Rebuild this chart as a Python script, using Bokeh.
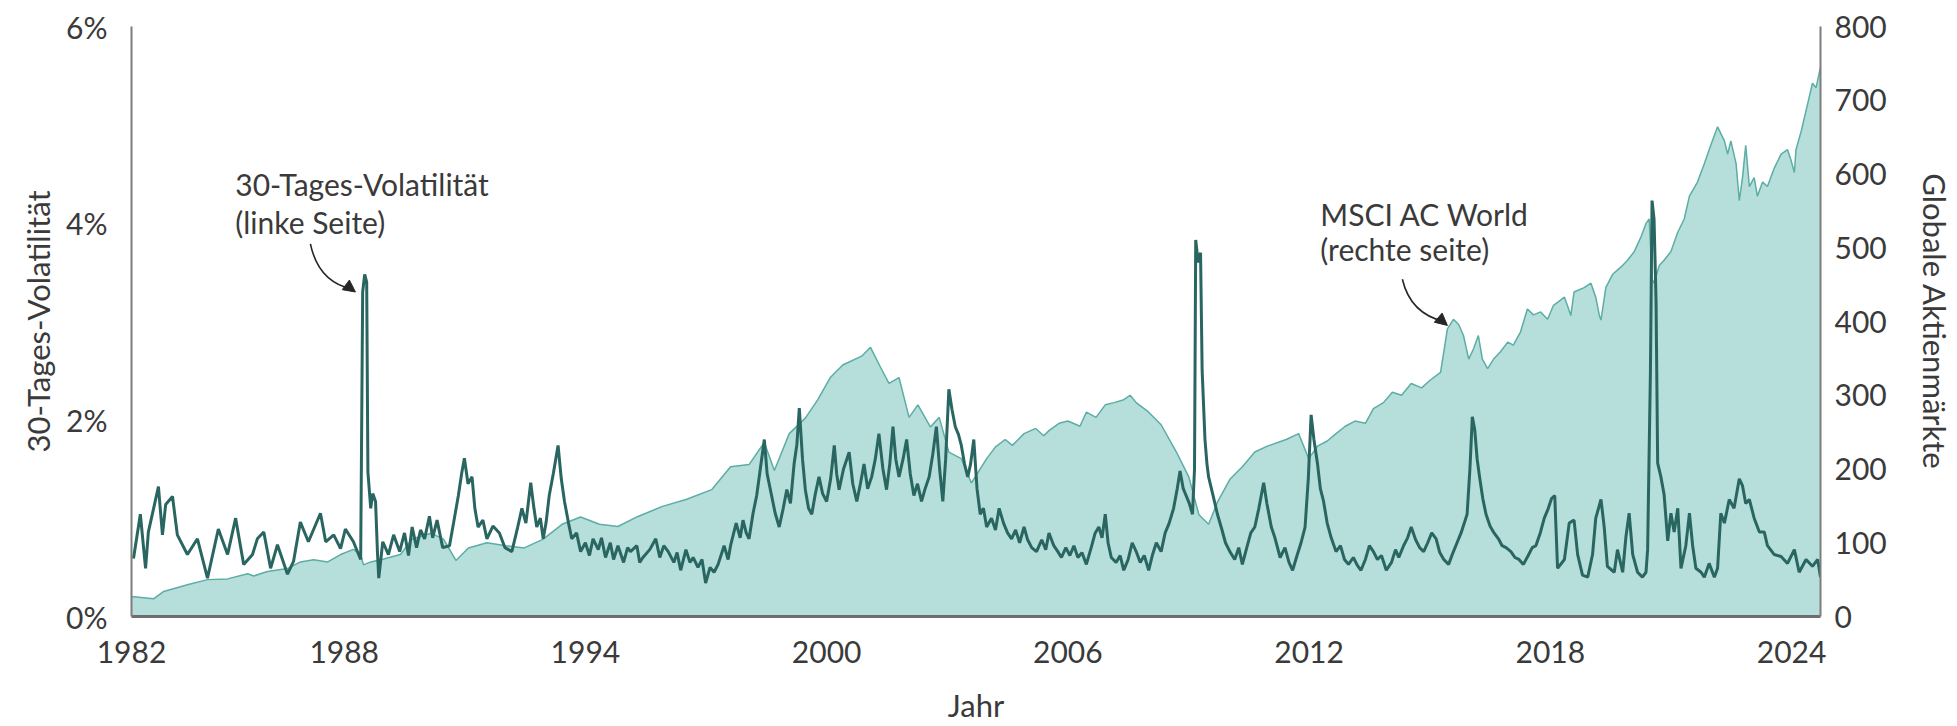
from bokeh.plotting import figure
from bokeh.models import (Range1d, LinearAxis, FixedTicker, CustomJSTickFormatter,
                          Label, Arrow, NormalHead, ColumnDataSource, PrintfTickFormatter)
from bokeh.embed import file_html
from bokeh.resources import INLINE

# ---------------- data ----------------
vol_year = [1982.76, 1982.93, 1983.06, 1983.13, 1983.38, 1983.48, 1983.56, 1983.73, 1983.85, 1984.10,
            1984.35, 1984.60, 1984.87, 1985.10, 1985.30, 1985.50, 1985.72, 1985.84, 1986.00, 1986.17,
            1986.34, 1986.59, 1986.74, 1986.91, 1987.11, 1987.41, 1987.54, 1987.74, 1987.91, 1988.03,
            1988.23, 1988.41, 1988.46, 1988.51, 1988.56, 1988.59, 1988.66, 1988.71, 1988.78, 1988.83,
            1988.86, 1988.96, 1989.10, 1989.23,
            1989.38, 1989.50, 1989.60, 1989.69, 1989.80, 1989.90, 1990.00, 1990.12, 1990.20, 1990.31,
            1990.45, 1990.62, 1990.72, 1990.84, 1990.92, 1990.99, 1991.08, 1991.18, 1991.25, 1991.33,
            1991.45, 1991.55, 1991.70, 1991.86, 1992.00, 1992.17, 1992.30, 1992.42, 1992.52, 1992.64,
            1992.72, 1992.79, 1992.88, 1992.95, 1993.02, 1993.10, 1993.20, 1993.32, 1993.40, 1993.48,
            1993.58, 1993.66, 1993.78, 1993.88, 1994.00, 1994.10, 1994.19, 1994.32, 1994.40, 1994.50,
            1994.62, 1994.70, 1994.81, 1994.95, 1995.05, 1995.12, 1995.28, 1995.35, 1995.43, 1995.60,
            1995.75, 1995.85, 1995.95, 1996.06, 1996.20, 1996.28, 1996.37, 1996.50, 1996.60, 1996.68,
            1996.80, 1996.90, 1996.99, 1997.10, 1997.20, 1997.30, 1997.45, 1997.55, 1997.61, 1997.75,
            1997.85, 1997.92, 1998.00, 1998.07, 1998.17, 1998.26, 1998.35, 1998.45, 1998.52, 1998.63,
            1998.72, 1998.82, 1998.92, 1999.01, 1999.10, 1999.19, 1999.26, 1999.32, 1999.40, 1999.47,
            1999.55, 1999.63, 1999.72, 1999.81, 1999.90, 2000.00, 2000.10, 2000.19, 2000.25, 2000.31,
            2000.42, 2000.56, 2000.65, 2000.75, 2000.84, 2000.93, 2001.02, 2001.12, 2001.21, 2001.30,
            2001.40, 2001.49, 2001.57, 2001.65, 2001.72, 2001.80, 2001.90, 2001.99, 2002.08, 2002.17,
            2002.26, 2002.36, 2002.45, 2002.55, 2002.64, 2002.73, 2002.81, 2002.89, 2002.96, 2003.04,
            2003.12, 2003.20, 2003.28, 2003.35, 2003.43, 2003.51, 2003.58, 2003.66, 2003.74, 2003.82,
            2003.90, 2003.98, 2004.10, 2004.20, 2004.29, 2004.40, 2004.50, 2004.60, 2004.70, 2004.80,
            2004.91, 2005.00, 2005.10, 2005.22, 2005.35, 2005.45, 2005.53, 2005.65, 2005.75, 2005.84,
            2005.95, 2006.05, 2006.15, 2006.25, 2006.35, 2006.46, 2006.58, 2006.68, 2006.77, 2006.85,
            2006.93, 2007.00, 2007.08, 2007.20, 2007.30, 2007.39, 2007.50, 2007.60, 2007.70, 2007.80,
            2007.90, 2008.01, 2008.10, 2008.20, 2008.32, 2008.42, 2008.52, 2008.63, 2008.72, 2008.79,
            2008.87, 2008.94, 2009.02, 2009.10, 2009.15, 2009.18, 2009.24, 2009.30, 2009.34, 2009.41,
            2009.46, 2009.50, 2009.60, 2009.72, 2009.82, 2009.92, 2010.03, 2010.15, 2010.25, 2010.34,
            2010.45, 2010.55, 2010.65, 2010.75, 2010.87, 2010.95, 2011.06, 2011.15, 2011.28, 2011.40,
            2011.50, 2011.59, 2011.70, 2011.80, 2011.90, 2011.98, 2012.05, 2012.12, 2012.21, 2012.28,
            2012.36, 2012.45, 2012.55, 2012.67, 2012.78, 2012.88, 2012.98, 2013.10, 2013.20, 2013.29,
            2013.40, 2013.50, 2013.60, 2013.70, 2013.80, 2013.92, 2014.05, 2014.15, 2014.23, 2014.35,
            2014.45, 2014.54, 2014.65, 2014.75, 2014.85, 2014.95, 2015.05, 2015.16, 2015.25, 2015.35,
            2015.47, 2015.58, 2015.68, 2015.78, 2015.86, 2015.93, 2016.00, 2016.06, 2016.12, 2016.18,
            2016.24, 2016.32, 2016.40, 2016.50, 2016.60, 2016.71, 2016.80, 2016.90, 2017.02, 2017.12,
            2017.22, 2017.33, 2017.45, 2017.55, 2017.64, 2017.75, 2017.85, 2017.95, 2018.03, 2018.11,
            2018.18, 2018.35, 2018.47, 2018.59, 2018.68, 2018.80, 2018.93, 2019.05, 2019.13, 2019.26,
            2019.34, 2019.42, 2019.59, 2019.67, 2019.80, 2019.88, 2019.96, 2020.05, 2020.17, 2020.29,
            2020.38, 2020.42, 2020.49, 2020.53, 2020.58, 2020.63, 2020.67, 2020.75, 2020.83, 2020.92,
            2021.00, 2021.08, 2021.17, 2021.25, 2021.37, 2021.46, 2021.54, 2021.62, 2021.75, 2021.83,
            2021.95, 2022.08, 2022.16, 2022.24, 2022.33, 2022.45, 2022.57, 2022.70, 2022.78, 2022.86,
            2022.95, 2023.07, 2023.20, 2023.32, 2023.40, 2023.57, 2023.74, 2023.90, 2024.07, 2024.19,
            2024.36, 2024.52, 2024.65, 2024.72]
vol_pct = [0.59, 1.04, 0.49, 0.86, 1.32, 0.83, 1.14, 1.22, 0.83, 0.63,
           0.79, 0.39, 0.89, 0.63, 1.00, 0.53, 0.63, 0.79, 0.86, 0.49,
           0.73, 0.43, 0.56, 0.96, 0.76, 1.05, 0.76, 0.83, 0.69, 0.89,
           0.76, 0.58, 3.30, 3.48, 3.40, 1.47, 1.10, 1.25, 1.17, 0.63,
           0.39, 0.76, 0.63, 0.83,
           0.66, 0.85, 0.62, 0.91, 0.70, 0.88, 0.79, 1.02, 0.80, 0.98,
           0.70, 0.72, 0.95, 1.23, 1.45, 1.61, 1.35, 1.42, 1.10, 0.91,
           0.98, 0.79, 0.92, 0.85, 0.70, 0.66, 0.88, 1.10, 0.95, 1.36,
           1.10, 0.91, 1.00, 0.79, 0.95, 1.23, 1.45, 1.74, 1.40, 1.17,
           0.95, 0.79, 0.85, 0.66, 0.75, 0.62, 0.79, 0.68, 0.80, 0.60,
           0.75, 0.58, 0.72, 0.55, 0.70, 0.66, 0.72, 0.55, 0.60, 0.68,
           0.79, 0.60, 0.72, 0.66, 0.55, 0.65, 0.47, 0.68, 0.55, 0.60,
           0.50, 0.58, 0.34, 0.50, 0.45, 0.53, 0.72, 0.58, 0.72, 0.95,
           0.80, 0.98, 0.85, 0.79, 1.05, 1.23, 1.50, 1.80, 1.45, 1.23,
           1.05, 0.91, 1.10, 1.29, 1.15, 1.55, 1.75, 2.12, 1.60, 1.29,
           1.10, 1.04, 1.25, 1.42, 1.25, 1.17, 1.40, 1.74, 1.45, 1.29,
           1.50, 1.67, 1.35, 1.17, 1.35, 1.55, 1.30, 1.42, 1.60, 1.86,
           1.50, 1.29, 1.55, 1.93, 1.60, 1.42, 1.60, 1.80, 1.45, 1.23,
           1.35, 1.17, 1.30, 1.42, 1.65, 1.93, 1.50, 1.17, 1.60, 2.31,
           2.10, 1.93, 1.85, 1.74, 1.55, 1.42, 1.55, 1.80, 1.30, 1.04,
           1.10, 0.91, 1.00, 0.88, 1.10, 0.95, 0.85, 0.79, 0.88, 0.75,
           0.91, 0.78, 0.70, 0.66, 0.78, 0.68, 0.85, 0.72, 0.66, 0.60,
           0.70, 0.62, 0.72, 0.60, 0.65, 0.53, 0.70, 0.85, 0.91, 0.80,
           1.04, 0.75, 0.60, 0.55, 0.62, 0.47, 0.58, 0.75, 0.66, 0.55,
           0.62, 0.47, 0.62, 0.75, 0.66, 0.85, 0.95, 1.10, 1.30, 1.48,
           1.30, 1.23, 1.15, 1.04, 1.50, 3.83, 3.60, 3.70, 2.50, 1.80,
           1.55, 1.42, 1.25, 1.04, 0.90, 0.75, 0.66, 0.58, 0.70, 0.53,
           0.70, 0.85, 0.91, 1.10, 1.36, 1.15, 0.91, 0.80, 0.60, 0.70,
           0.55, 0.47, 0.62, 0.75, 0.91, 1.40, 2.05, 1.80, 1.55, 1.30,
           1.17, 0.95, 0.80, 0.66, 0.72, 0.58, 0.53, 0.60, 0.52, 0.47,
           0.58, 0.72, 0.66, 0.58, 0.62, 0.47, 0.55, 0.68, 0.60, 0.72,
           0.80, 0.91, 0.78, 0.70, 0.66, 0.75, 0.85, 0.79, 0.65, 0.58,
           0.53, 0.65, 0.75, 0.85, 0.95, 1.04, 1.50, 2.03, 1.90, 1.60,
           1.42, 1.20, 1.04, 0.92, 0.85, 0.79, 0.72, 0.70, 0.66, 0.60,
           0.58, 0.53, 0.62, 0.70, 0.72, 0.85, 1.00, 1.10, 1.20, 1.23,
           0.49, 0.58, 0.95, 0.98, 0.63, 0.42, 0.40, 0.63, 1.00, 1.19,
           0.91, 0.51, 0.45, 0.68, 0.45, 0.81, 1.05, 0.63, 0.45, 0.40,
           0.45, 0.68, 2.50, 4.23, 4.04, 3.20, 1.56, 1.42, 1.24, 0.77,
           1.05, 0.86, 1.10, 0.49, 0.72, 1.05, 0.72, 0.49, 0.45, 0.40,
           0.54, 0.40, 0.49, 1.05, 0.95, 1.19, 1.10, 1.40, 1.33, 1.15,
           1.19, 1.00, 0.86, 0.86, 0.72, 0.63, 0.61, 0.54, 0.68, 0.45,
           0.58, 0.51, 0.58, 0.40]

msci_year = [1982.71, 1983.26, 1983.51, 1984.10, 1984.60, 1985.10, 1985.60, 1985.75, 1986.09, 1986.59,
             1986.91, 1987.24, 1987.59, 1987.91, 1988.23, 1988.41, 1988.48, 1988.66, 1988.98, 1989.40,
             1989.69, 1990.16, 1990.47, 1990.78, 1991.09, 1991.55, 1992.02, 1992.48, 1992.95, 1993.42,
             1993.88, 1994.35, 1994.81, 1995.28, 1995.90, 1996.52, 1997.14, 1997.61, 1998.07, 1998.45,
             1998.70, 1999.07, 1999.47, 1999.78, 2000.09, 2000.40, 2000.87, 2001.09, 2001.34, 2001.55,
             2001.80, 2002.05, 2002.27, 2002.58, 2002.80, 2003.04, 2003.35, 2003.60, 2003.98, 2004.20,
             2004.44, 2004.62, 2004.91, 2005.20, 2005.40, 2005.53, 2005.78, 2006.00, 2006.30, 2006.46,
             2006.70, 2006.93, 2007.15, 2007.39, 2007.55, 2007.70, 2008.01, 2008.32, 2008.70,
             2009.01, 2009.26, 2009.50, 2009.72, 2010.03, 2010.34, 2010.65, 2010.96, 2011.43, 2011.74,
             2011.99, 2012.21, 2012.45, 2012.67, 2012.90, 2013.14, 2013.40, 2013.60, 2013.85, 2014.07,
             2014.30, 2014.54, 2014.80, 2015.00,
             2015.27, 2015.44, 2015.59, 2015.72, 2015.84, 2015.97, 2016.09, 2016.21, 2016.31, 2016.44,
             2016.59, 2016.76, 2016.94, 2017.08, 2017.26, 2017.43, 2017.58, 2017.76, 2017.93, 2018.08,
             2018.18, 2018.35, 2018.43, 2018.51, 2018.59, 2018.84, 2019.01, 2019.13, 2019.22, 2019.26,
             2019.38, 2019.55, 2019.76, 2019.92, 2020.09, 2020.25, 2020.38, 2020.46, 2020.53, 2020.58,
             2020.71, 2020.83, 2021.00, 2021.17, 2021.33, 2021.46, 2021.66, 2021.83, 2021.99, 2022.16,
             2022.33, 2022.41, 2022.49, 2022.62, 2022.70, 2022.78, 2022.86, 2022.95, 2023.07, 2023.15,
             2023.28, 2023.40, 2023.57, 2023.74, 2023.90, 2023.98, 2024.07, 2024.11, 2024.24, 2024.40,
             2024.52, 2024.61, 2024.72]
msci_val = [27, 24, 34, 43, 50, 51, 58, 55, 61, 65,
            74, 77, 74, 84, 91, 84, 70, 74, 78, 84,
            105, 113, 105, 76, 93, 100, 96, 93, 105, 125,
            135, 125, 122, 135, 149, 159, 172, 203, 206, 236,
            198, 248, 269, 294, 324, 341, 353, 365, 338, 316,
            324, 270, 287, 257, 270, 223, 214, 181, 214, 230,
            240, 232, 248, 255, 245, 252, 262, 265, 258, 277,
            270, 287, 290, 294, 300, 290, 277, 260, 223,
            189, 138, 125, 155, 186, 203, 223, 231, 240, 248,
            214, 231, 238, 248, 258, 265, 262, 282, 290, 304,
            300, 316, 310, 320,
            331, 390, 403, 396, 381, 349, 363, 381, 349, 336,
            349, 359, 372, 368, 386, 417, 409, 413, 403, 422,
            426, 433, 421, 408, 440, 446, 452, 433, 408, 402,
            446, 464, 474, 483, 495, 514, 533, 539, 458, 452,
            476, 483, 495, 521, 539, 570, 589, 614, 639, 664,
            645, 627, 645, 614, 564, 595, 639, 583, 595, 570,
            589, 583, 608, 627, 633, 620, 602, 633, 658, 695,
            723, 717, 745]

x_ticks = [1982.71, 1988, 1994, 2000, 2006, 2012, 2018, 2024]
left_ticks = [0, 2, 4, 6]
right_ticks = [0, 100, 200, 300, 400, 500, 600, 700, 800]

# ---------------- style ----------------
FONT = "Lato"
TXT = "#3a3a3a"
FS = "30px"
TITLE_FS = "31px"
AXIS_C = "#7d7d7d"
VOL_C = "#2a6661"
FILL_C = "#b6dedb"
MSCI_C = "#5cada5"

p = figure(width=1957, height=726, output_backend="svg", toolbar_location=None,
           x_range=Range1d(1982.71, 2024.72), y_range=Range1d(0, 6),
           min_border_left=131, min_border_right=137, min_border_top=26, min_border_bottom=110)
p.extra_y_ranges = {"right": Range1d(0, 800)}
p.outline_line_color = None
p.xgrid.visible = False
p.ygrid.visible = False

msrc = ColumnDataSource(dict(x=msci_year, y=msci_val))
vsrc = ColumnDataSource(dict(x=vol_year, y=vol_pct))
p.varea(x="x", y1=0, y2="y", source=msrc, y_range_name="right", fill_color=FILL_C)
p.line(x="x", y="y", source=msrc, y_range_name="right", line_color=MSCI_C, line_width=1.5)
p.line(x="x", y="y", source=vsrc, line_color=VOL_C, line_width=3)

raxis = LinearAxis(y_range_name="right", ticker=FixedTicker(ticks=right_ticks),
                   axis_label="Globale Aktienmärkte")
p.add_layout(raxis, "right")

lax = p.left[0]
lax.ticker = FixedTicker(ticks=left_ticks)
lax.formatter = PrintfTickFormatter(format="%d%%")
lax.axis_label = "30-Tages-Volatilität"

bax = p.below[0]
bax.ticker = FixedTicker(ticks=x_ticks)
bax.formatter = CustomJSTickFormatter(code="return tick < 1985 ? '1982' : tick.toFixed(0);")
bax.axis_label = "Jahr"

for ax in (lax, raxis, bax):
    ax.major_tick_line_color = None
    ax.minor_tick_line_color = None
    ax.major_tick_out = 0
    ax.axis_line_color = AXIS_C
    ax.axis_line_width = 2
    ax.major_label_text_font = FONT
    ax.major_label_text_font_size = FS
    ax.major_label_text_color = TXT
    ax.axis_label_text_font = FONT
    ax.axis_label_text_font_size = TITLE_FS
    ax.axis_label_text_color = TXT
    ax.axis_label_text_font_style = "normal"
bax.axis_line_width = 3
bax.axis_line_color = "#6e6e6e"
lax.major_label_standoff = 24
lax.axis_label_standoff = 6
raxis.major_label_standoff = 14
raxis.axis_label_standoff = 26
bax.major_label_standoff = 24
bax.axis_label_standoff = 20

# annotations
for txt, xx, yy in [("30-Tages-Volatilität", 1985.29, 4.40), ("(linke Seite)", 1985.29, 4.01),
                    ("MSCI AC World", 2012.28, 4.09), ("(rechte seite)", 2012.28, 3.74)]:
    p.add_layout(Label(x=xx, y=yy, text=txt, text_font=FONT, text_font_size="30px",
                       text_color=TXT, text_baseline="middle", text_align="left"))

ARR = "#262626"
p.quadratic(x0=[1987.16, 2014.32], y0=[3.79, 3.43], x1=[1988.20, 2015.36], y1=[3.33, 3.00],
            cx=[1987.36, 2014.52], cy=[3.40, 3.08], line_color=ARR, line_width=1.6)
p.add_layout(Arrow(end=NormalHead(size=12, fill_color=ARR, line_color=ARR),
                   x_start=1988.05, y_start=3.37, x_end=1988.28, y_end=3.30,
                   line_color=ARR, line_width=1.6))
p.add_layout(Arrow(end=NormalHead(size=12, fill_color=ARR, line_color=ARR),
                   x_start=2015.21, y_start=3.04, x_end=2015.44, y_end=2.96,
                   line_color=ARR, line_width=1.6))

open("out.html", "w").write(file_html(p, INLINE))
